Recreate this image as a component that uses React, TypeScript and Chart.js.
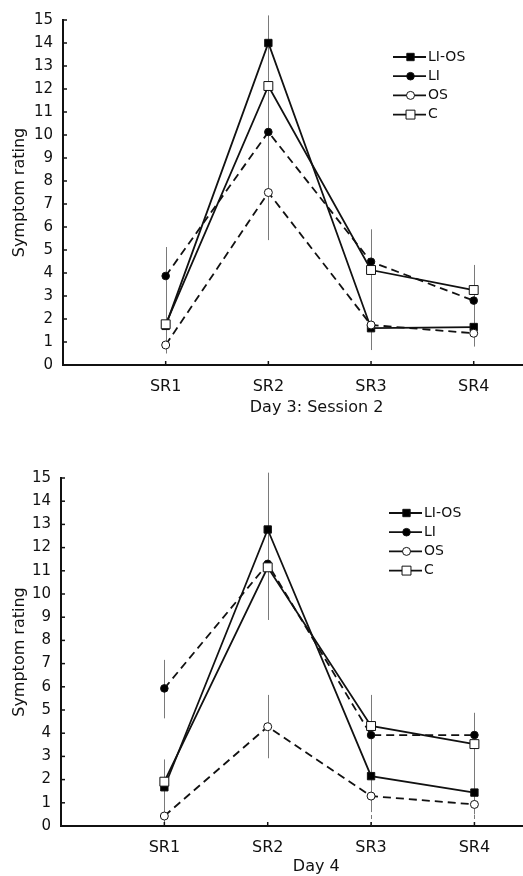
import React, { useEffect, useRef } from "react";
import { Chart, registerables } from "chart.js";

Chart.register(...registerables);

// ---------- data ----------
const categories = ["SR1", "SR2", "SR3", "SR4"];
const categoryPos = [1, 2, 3, 4];
const seriesNames = ["LI-OS", "LI", "OS", "C"];
const yTicks = [0, 15];

// Day 3: Session 2
const d3LIOS = [1.7, 14.0, 1.6, 1.65];
const d3LI = [3.87, 10.13, 4.49, 2.8];
const d3OS = [0.87, 7.5, 1.74, 1.38];
const d3C = [1.77, 12.13, 4.13, 3.26];
const d3ErrPos = [1, 2, 3, 4];
const d3ErrLow = [0.5, 5.43, 0.65, 0.8];
const d3ErrHigh = [5.13, 15.2, 5.9, 4.35];
const d3ErrDashed = [false, false, false, false];

// Day 4
const d4LIOS = [1.67, 12.78, 2.15, 1.44];
const d4LI = [5.93, 11.3, 3.92, 3.92];
const d4OS = [0.43, 4.28, 1.29, 0.93];
const d4C = [1.91, 11.15, 4.31, 3.53];
const d4ErrPos = [1, 1, 2, 2, 3, 3, 4, 4];
const d4ErrLow = [4.64, 0, 8.88, 2.92, 0.6, 0, 0.5, 0];
const d4ErrHigh = [7.16, 2.87, 15.23, 5.65, 5.65, 0.6, 4.88, 0.5];
const d4ErrDashed = [false, false, false, false, false, true, false, true];

// ---------- styles ----------
const FONT = "'DejaVu Sans', Verdana, sans-serif";
const INK = "#111";
const seriesDash = [[], [8, 5], [8, 5], []];
const seriesPointStyle = ["rect", "circle", "circle", "rect"];
const seriesFill = ["#000", "#000", "#fff", "#fff"];
const seriesRadius = [5.2, 3.8, 4, 6.3];
const seriesOrder = [4, 3, 2, 1];

type PanelProps = {
  series: number[][];
  errPos: number[];
  errLow: number[];
  errHigh: number[];
  errDashed: boolean[];
  xTitle: string;
  xMax: number;
  padTop: number;
  yAxisWidth: number;
  xAxisHeight: number;
  legendX: number;
  legendY: number;
  titleBelow: number;
};

function drawMarker(ctx: CanvasRenderingContext2D, i: number, x: number, y: number) {
  const r = seriesRadius[i];
  ctx.save();
  ctx.setLineDash([]);
  ctx.fillStyle = seriesFill[i];
  ctx.strokeStyle = INK;
  ctx.lineWidth = 1;
  ctx.beginPath();
  if (seriesPointStyle[i] === "rect") {
    const s = r * Math.SQRT1_2;
    ctx.rect(x - s, y - s, 2 * s, 2 * s);
  } else {
    ctx.arc(x, y, r, 0, Math.PI * 2);
  }
  ctx.fill();
  ctx.stroke();
  ctx.restore();
}

function Panel(p: PanelProps) {
  const ref = useRef<HTMLCanvasElement | null>(null);
  useEffect(() => {
    if (!ref.current) return;
    const overlay = {
      id: "overlay",
      beforeDatasetsDraw(chart: any) {
        const { ctx } = chart;
        const xs = chart.scales.x;
        const ys = chart.scales.y;
        ctx.save();
        ctx.strokeStyle = "#7a7a7a";
        ctx.lineWidth = 1;
        p.errPos.forEach((pos, i) => {
          const px = Math.round(xs.getPixelForValue(pos)) + 0.5;
          ctx.setLineDash(p.errDashed[i] ? [4, 3] : []);
          ctx.beginPath();
          ctx.moveTo(px, ys.getPixelForValue(p.errLow[i]));
          ctx.lineTo(px, ys.getPixelForValue(p.errHigh[i]));
          ctx.stroke();
        });
        ctx.restore();
      },
      afterDraw(chart: any) {
        const { ctx, chartArea } = chart;
        const xs = chart.scales.x;
        const ys = chart.scales.y;
        ctx.save();
        // inward tick marks
        ctx.strokeStyle = INK;
        ctx.lineWidth = 1.5;
        ctx.setLineDash([]);
        ys.ticks.forEach((t: any) => {
          const py = ys.getPixelForValue(t.value);
          ctx.beginPath();
          ctx.moveTo(chartArea.left, py);
          ctx.lineTo(chartArea.left + 4, py);
          ctx.stroke();
        });
        xs.ticks.forEach((t: any) => {
          const px = xs.getPixelForValue(t.value);
          ctx.beginPath();
          ctx.moveTo(px, chartArea.bottom);
          ctx.lineTo(px, chartArea.bottom - 4);
          ctx.stroke();
        });
        // x title
        ctx.fillStyle = INK;
        ctx.font = `16px ${FONT}`;
        ctx.textAlign = "center";
        ctx.textBaseline = "middle";
        ctx.fillText(p.xTitle, xs.getPixelForValue(2.47), chartArea.bottom + p.titleBelow);
        // legend
        ctx.font = `14px ${FONT}`;
        ctx.textAlign = "left";
        seriesNames.forEach((name, i) => {
          const y = p.legendY + i * 19.2;
          ctx.strokeStyle = INK;
          ctx.lineWidth = 1.8;
          ctx.beginPath();
          ctx.moveTo(p.legendX, y);
          ctx.lineTo(p.legendX + 33, y);
          ctx.stroke();
          drawMarker(ctx, i, p.legendX + 17.5, y);
          ctx.fillStyle = INK;
          ctx.fillText(name, p.legendX + 35, y);
        });
        ctx.restore();
      },
    };

    const chart = new Chart(ref.current, {
      type: "line",
      data: {
        datasets: p.series.map((vals, i) => ({
          label: seriesNames[i],
          data: vals.map((v, j) => ({ x: categoryPos[j], y: v })),
          borderColor: INK,
          borderWidth: 1.8,
          borderDash: seriesDash[i],
          pointStyle: seriesPointStyle[i] as any,
          pointRadius: seriesRadius[i],
          pointBackgroundColor: seriesFill[i],
          pointBorderColor: INK,
          pointBorderWidth: 1,
          tension: 0,
          fill: false,
          order: seriesOrder[i],
          clip: false as any,
        })),
      },
      options: {
        responsive: false,
        animation: false,
        events: [],
        layout: { autoPadding: false, padding: { top: p.padTop, left: 0, right: 0, bottom: 0 } },
        plugins: { legend: { display: false }, tooltip: { enabled: false } },
        scales: {
          x: {
            type: "linear",
            min: 0,
            max: p.xMax,
            grid: { display: false, drawTicks: false },
            border: { display: true, color: INK, width: 2 },
            afterBuildTicks: (scale: any) => {
              scale.ticks = categoryPos.map((v) => ({ value: v }));
            },
            afterFit: (scale: any) => {
              scale.height = p.xAxisHeight;
              scale.paddingLeft = 0;
              scale.paddingRight = 0;
            },
            ticks: {
              autoSkip: false,
              maxRotation: 0,
              padding: 12,
              color: INK,
              font: { family: FONT, size: 16 },
              callback: (_v: any, idx: number) => categories[idx],
            },
          },
          y: {
            type: "linear",
            min: yTicks[0],
            max: yTicks[1],
            grid: { display: false, drawTicks: false },
            border: { display: true, color: INK, width: 2 },
            afterFit: (scale: any) => {
              scale.width = p.yAxisWidth;
            },
            ticks: {
              stepSize: 1,
              padding: 10,
              color: INK,
              font: { family: FONT, size: 15 },
            },
            title: {
              display: true,
              text: "Symptom rating",
              color: INK,
              font: { family: FONT, size: 16 },
              padding: { top: 10, bottom: 0 },
            },
          },
        },
      },
      plugins: [overlay],
    });
    return () => chart.destroy();
  }, []);
  return <canvas ref={ref} width={523} height={438} style={{ display: "block" }} />;
}

export default function App() {
  return (
    <div style={{ position: "absolute", left: 0, top: 0, width: 523, height: 876, background: "#fff" }}>
      <Panel
        series={[d3LIOS, d3LI, d3OS, d3C]}
        errPos={d3ErrPos}
        errLow={d3ErrLow}
        errHigh={d3ErrHigh}
        errDashed={d3ErrDashed}
        xTitle="Day 3: Session 2"
        xMax={4.48}
        padTop={20}
        yAxisWidth={63}
        xAxisHeight={73}
        legendX={393}
        legendY={57}
        titleBelow={43}
      />
      <Panel
        series={[d4LIOS, d4LI, d4OS, d4C]}
        errPos={d4ErrPos}
        errLow={d4ErrLow}
        errHigh={d4ErrHigh}
        errDashed={d4ErrDashed}
        xTitle="Day 4"
        xMax={4.47}
        padTop={40}
        yAxisWidth={61}
        xAxisHeight={50}
        legendX={389}
        legendY={75}
        titleBelow={41}
      />
    </div>
  );
}
